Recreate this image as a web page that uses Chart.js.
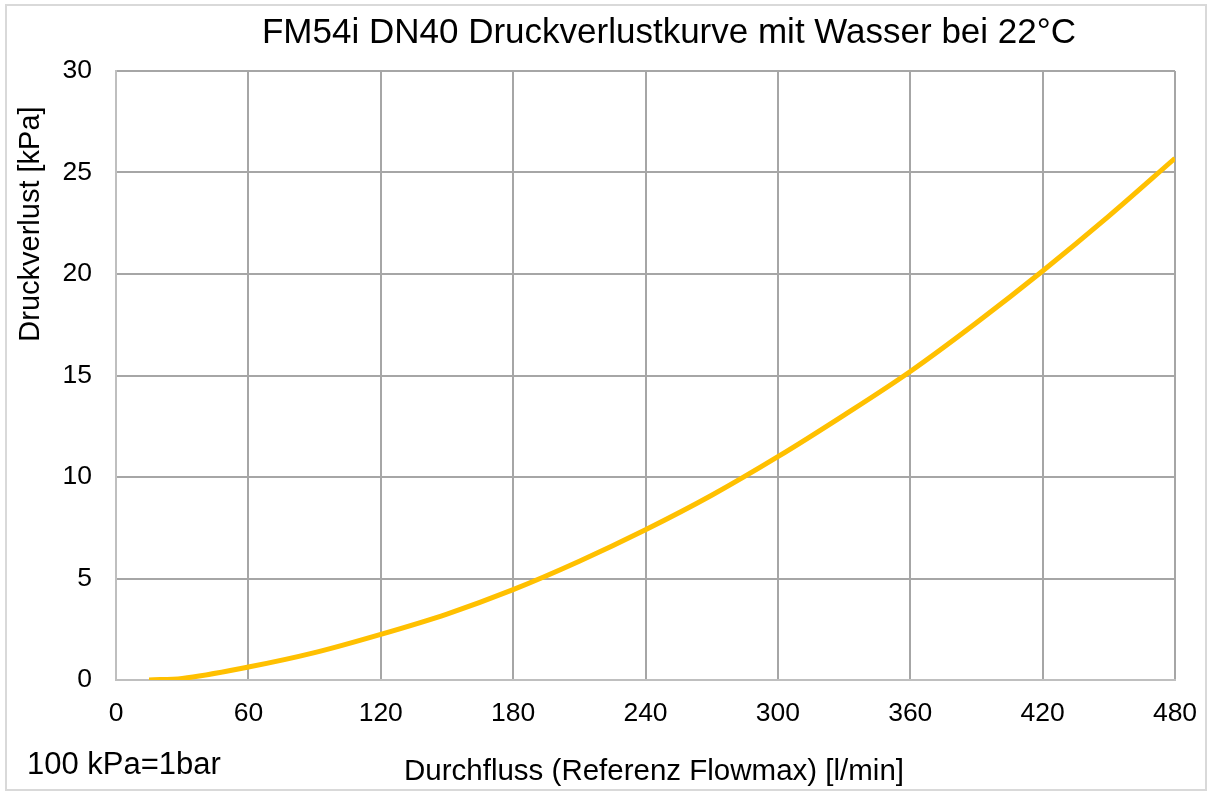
<!DOCTYPE html>
<html>
<head>
<meta charset="utf-8">
<script src="https://cdn.jsdelivr.net/npm/chart.js@4/dist/chart.umd.min.js"></script>
<style>
html,body{margin:0;padding:0;background:#fff;}
#wrap{width:1211px;height:792px;position:relative;}
</style>
</head>
<body>
<div id="wrap"><canvas id="c" width="1211" height="792"></canvas></div>
<script>
// ---- data ----
const flow = [15, 30, 60, 90, 120, 150, 180, 210, 240, 270, 300, 330, 360, 390, 420, 450, 480]; // l/min
const pressureLoss = [0, 0.08, 0.64, 1.35, 2.25, 3.25, 4.45, 5.85, 7.4, 9.1, 11.0, 13.05, 15.2, 17.6, 20.15, 22.85, 25.7]; // kPa
const xTicks = [0, 60, 120, 180, 240, 300, 360, 420, 480];
const yTicks = [0, 5, 10, 15, 20, 25, 30];
const titleText = "FM54i DN40 Druckverlustkurve mit Wasser bei 22°C";
const xTitle = "Durchfluss (Referenz Flowmax) [l/min]";
const yTitle = "Druckverlust [kPa]";
const noteText = "100 kPa=1bar";

const FONT = '"Liberation Sans", Arial, sans-serif';
Chart.defaults.font.family = FONT;
Chart.defaults.color = '#000';

const points = flow.map((q, i) => ({x: q, y: pressureLoss[i]}));

const textPlugin = {
  id: 'texts',
  beforeDraw(chart) {
    const ctx = chart.ctx;
    ctx.save();
    ctx.fillStyle = '#fff';
    ctx.fillRect(0, 0, chart.width, chart.height);
    ctx.strokeStyle = '#d9d9d9';
    ctx.lineWidth = 2;
    ctx.strokeRect(6, 5, 1200, 785);
    ctx.restore();
  },
  afterDraw(chart) {
    const ctx = chart.ctx;
    ctx.save();
    ctx.fillStyle = '#000';
    ctx.textAlign = 'center';
    ctx.textBaseline = 'alphabetic';
    ctx.font = '35px ' + FONT;
    ctx.fillText(titleText, 669, 43);
    ctx.font = '29.5px ' + FONT;
    ctx.textBaseline = 'middle';
    ctx.fillText(xTitle, 654, 772);
    ctx.textAlign = 'left';
    ctx.textBaseline = 'alphabetic';
    ctx.font = '31px ' + FONT;
    ctx.fillText(noteText, 27, 774);
    ctx.translate(31, 224);
    ctx.rotate(-Math.PI / 2);
    ctx.textAlign = 'center';
    ctx.textBaseline = 'middle';
    ctx.font = '29px ' + FONT;
    ctx.fillText(yTitle, 0, 0);
    ctx.restore();
  }
};

new Chart(document.getElementById('c'), {
  type: 'line',
  data: {
    datasets: [{
      data: points,
      borderColor: '#ffc000',
      backgroundColor: '#ffc000',
      borderWidth: 5,
      pointRadius: 0,
      cubicInterpolationMode: 'monotone',
      fill: false
    }]
  },
  options: {
    responsive: false,
    animation: false,
    devicePixelRatio: 1,
    layout: {padding: {top: 71, right: 36, left: 0, bottom: 0}},
    plugins: {legend: {display: false}, title: {display: false}, tooltip: {enabled: false}},
    scales: {
      x: {
        type: 'linear',
        min: xTicks[0],
        max: xTicks[xTicks.length - 1],
        afterBuildTicks(scale) { scale.ticks = xTicks.map(v => ({value: v})); },
        afterFit(scale) { scale.height = 112; scale.paddingRight = 0; scale.paddingLeft = 0; },
        ticks: {font: {size: 26.5}, color: '#000', padding: 18, maxRotation: 0, autoSkip: false},
        grid: {color: '#a6a6a6', lineWidth: 2, drawTicks: false},
        border: {color: '#bfbfbf', width: 2}
      },
      y: {
        type: 'linear',
        min: yTicks[0],
        max: yTicks[yTicks.length - 1],
        afterBuildTicks(scale) { scale.ticks = yTicks.map(v => ({value: v})); },
        afterFit(scale) { scale.width = 116; scale.paddingTop = 0; scale.paddingBottom = 0; },
        ticks: {font: {size: 26.5}, color: '#000', padding: 24, autoSkip: false},
        grid: {color: '#a6a6a6', lineWidth: 2, drawTicks: false},
        border: {color: '#bfbfbf', width: 2}
      }
    }
  },
  plugins: [textPlugin]
});
</script>
</body>
</html>
